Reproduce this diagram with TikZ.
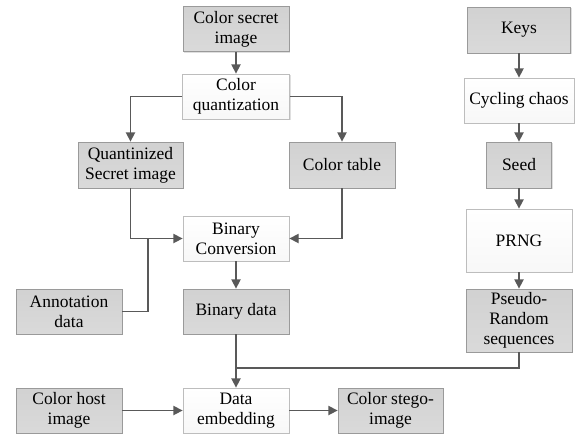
\documentclass[tikz,border=0pt]{standalone}
\usepackage{fontspec}
\setmainfont{Liberation Serif}
\usetikzlibrary{arrows.meta,shadows}
\definecolor{boxgray}{HTML}{C6C6C6}
\definecolor{boxedge}{HTML}{9A9A9A}
\definecolor{wedge}{HTML}{BDBDBD}
\definecolor{linegray}{HTML}{595959}
\tikzset{
  base/.style={rectangle, align=center, inner sep=0pt, font=\fontsize{13.1}{15}\selectfont, line width=0.6pt,
    drop shadow={shadow xshift=0.8pt, shadow yshift=-0.8pt, opacity=0.25}},
  gbox/.style={base, draw=boxedge, top color=boxgray!80, bottom color=boxgray!110!black},
  wbox/.style={base, draw=wedge, top color=white, bottom color=gray!6},
  conn/.style={draw=linegray, line width=1.1pt, -{Triangle[length=7pt,width=7pt]}},
  plain/.style={draw=linegray, line width=1.1pt},
}
\begin{document}
\begin{tikzpicture}[x=0.75pt,y=-0.75pt]
\useasboundingbox (0,0) rectangle (577,437);
% left/middle column
\node[gbox, minimum width=79.5pt, minimum height=33.75pt] (csi) at (236,29) {Color secret\\image};
\node[wbox, minimum width=80.25pt, minimum height=33.75pt] (cq) at (236,96.5) {Color\\quantization};
\node[gbox, minimum width=78.75pt, minimum height=34.5pt] (qsi) at (130.5,165) {Quantinized\\Secret image};
\node[gbox, minimum width=79.5pt, minimum height=34.5pt] (ct) at (342,165) {Color table};
\node[wbox, minimum width=79.5pt, minimum height=33.75pt] (bc) at (236,238.5) {Binary\\Conversion};
\node[gbox, minimum width=79.5pt, minimum height=33.75pt] (ad) at (69,311.5) {Annotation\\data};
\node[gbox, minimum width=79.5pt, minimum height=33.75pt] (bd) at (236,311.5) {Binary data};
\node[gbox, minimum width=79.5pt, minimum height=33.75pt] (chi) at (69,410.5) {Color host\\image};
\node[wbox, minimum width=79.5pt, minimum height=33.75pt] (de) at (236,410.5) {Data\\embedding};
\node[gbox, minimum width=78.75pt, minimum height=33.75pt] (csg) at (390.5,410.5) {Color stego-\\image};
% right column
\node[gbox, minimum width=77.25pt, minimum height=34.5pt] (keys) at (519,30) {Keys};
\node[wbox, minimum width=82.5pt, minimum height=33.75pt] (cc) at (519,100.5) {Cycling chaos};
\node[gbox, minimum width=48.75pt, minimum height=34.5pt] (seed) at (519,165) {Seed};
\node[wbox, minimum width=79.5pt, minimum height=47.25pt] (prng) at (519,240.5) {PRNG};
\node[gbox, minimum width=79.5pt, minimum height=47.25pt] (prs) at (519,320.5) {Pseudo-\\Random\\sequences};
% junction coordinates
\coordinate (j1) at (148,239);
\coordinate (j2) at (236,368);
% connectors
\draw[conn] (csi) -- (cq);
\draw[conn] (cq.west) -| (qsi.north);
\draw[conn] (cq.east) -| (ct.north);
\draw[conn] (qsi.south) |- (bc.west);
\draw[plain] (ad.east) -| (j1);
\draw[conn] (ct.south) |- (bc.east);
\draw[conn] (bc) -- (bd);
\draw[conn] (bd) -- (de);
\draw[plain] (prs.south) |- (j2);
\draw[conn] (chi) -- (de);
\draw[conn] (de) -- (csg);
\draw[conn] (keys) -- (cc);
\draw[conn] (cc) -- (seed);
\draw[conn] (seed) -- (prng);
\draw[conn] (prng) -- (prs);
\end{tikzpicture}
\end{document}
